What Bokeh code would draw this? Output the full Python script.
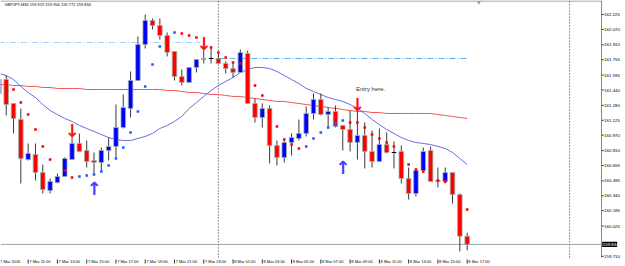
from bokeh.plotting import figure
from bokeh.models import Range1d, Label
from bokeh.embed import file_html
from bokeh.resources import INLINE
from bokeh.core.properties import value

# ---------------- data ----------------
symbol_header = "GBPJPY,M30 159.919 159.956 159.772 159.834"

# candle index 0 = 7 Mar 09:00, one candle per 30 minutes, last = 8 Mar 17:00
opens = [161.404, 161.549, 161.300, 161.133, 160.717, 160.769, 160.582, 160.395, 160.478, 160.541,
         160.717, 160.884, 160.811, 160.707, 160.686, 160.811, 160.853, 161.050, 161.248, 161.539,
         161.913, 162.163, 162.111, 162.007, 161.841, 161.581, 161.518, 161.674, 161.757, 161.768,
         161.768, 161.716, 161.664, 161.622, 161.820, 161.300, 161.154, 161.248, 160.863, 160.738,
         160.894, 160.936, 160.988, 161.196, 161.341, 161.185, 161.217, 161.071, 161.029, 160.894,
         160.967, 160.801, 160.697, 160.873, 160.790, 160.801, 160.520, 160.364, 160.603, 160.811,
         160.499, 160.489, 160.582, 160.353, 159.919]
highs = [161.591, 161.591, 161.300, 161.248, 160.884, 160.884, 160.665, 160.520, 160.572, 160.738,
         160.967, 160.988, 160.915, 160.790, 160.842, 160.946, 161.289, 161.393, 161.633, 161.997,
         162.225, 162.184, 162.184, 162.038, 161.841, 161.653, 161.674, 161.757, 161.861, 161.893,
         161.830, 161.737, 161.716, 161.861, 161.851, 161.352, 161.300, 161.279, 160.915, 160.915,
         160.988, 161.133, 161.269, 161.404, 161.404, 161.258, 161.279, 161.071, 161.227, 161.227,
         161.102, 161.019, 161.040, 160.998, 160.905, 160.863, 160.634, 160.624, 160.842, 160.853,
         160.634, 160.634, 160.582, 160.364, 159.956]
lows = [161.373, 161.175, 160.988, 160.468, 160.707, 160.499, 160.364, 160.364, 160.468, 160.541,
        160.717, 160.801, 160.634, 160.561, 160.593, 160.707, 160.738, 161.040, 161.154, 161.539,
        161.872, 162.069, 161.965, 161.789, 161.539, 161.487, 161.518, 161.622, 161.716, 161.716,
        161.716, 161.612, 161.570, 161.622, 161.300, 161.102, 161.050, 160.676, 160.655, 160.686,
        160.759, 160.915, 160.957, 161.133, 161.175, 161.040, 161.050, 160.811, 160.801, 160.717,
        160.624, 160.634, 160.697, 160.780, 160.624, 160.468, 160.301, 160.333, 160.582, 160.489,
        160.426, 160.468, 160.260, 159.760, 159.772]
closes = [161.549, 161.289, 161.144, 160.728, 160.780, 160.582, 160.405, 160.489, 160.541, 160.728,
          160.884, 160.801, 160.697, 160.686, 160.811, 160.853, 161.050, 161.258, 161.539, 161.913,
          162.163, 162.111, 162.007, 161.830, 161.581, 161.518, 161.674, 161.757, 161.768, 161.768,
          161.716, 161.664, 161.622, 161.830, 161.300, 161.154, 161.248, 160.863, 160.738, 160.894,
          160.946, 160.988, 161.196, 161.341, 161.185, 161.217, 161.061, 161.029, 160.894, 160.967,
          160.801, 160.697, 160.873, 160.790, 160.790, 160.520, 160.364, 160.603, 160.801, 160.489,
          160.489, 160.582, 160.353, 159.919, 159.834]

ma_slow = [161.497, 161.497, 161.487, 161.487, 161.477, 161.477, 161.466, 161.466, 161.456, 161.456,
           161.456, 161.456, 161.445, 161.445, 161.445, 161.445, 161.445, 161.445, 161.445, 161.445,
           161.445, 161.445, 161.445, 161.435, 161.435, 161.425, 161.414, 161.414, 161.404, 161.393,
           161.393, 161.383, 161.373, 161.373, 161.362, 161.352, 161.341, 161.331, 161.321, 161.321,
           161.310, 161.300, 161.289, 161.279, 161.269, 161.258, 161.248, 161.237, 161.227, 161.217,
           161.217, 161.206, 161.206, 161.196, 161.196, 161.196, 161.196, 161.196, 161.196, 161.196,
           161.185, 161.175, 161.165, 161.154, 161.144]
ma_fast = [161.612, 161.591, 161.549, 161.477, 161.414, 161.362, 161.289, 161.227, 161.185, 161.144,
           161.113, 161.071, 161.040, 161.009, 160.977, 160.946, 160.925, 160.915, 160.915, 160.936,
           160.957, 160.988, 161.040, 161.071, 161.113, 161.165, 161.248, 161.310, 161.373, 161.435,
           161.487, 161.529, 161.570, 161.622, 161.653, 161.674, 161.674, 161.664, 161.633, 161.591,
           161.549, 161.508, 161.456, 161.425, 161.393, 161.362, 161.341, 161.321, 161.289, 161.248,
           161.196, 161.133, 161.081, 161.029, 160.988, 160.946, 160.915, 160.894, 160.884, 160.873,
           160.853, 160.832, 160.790, 160.728, 160.665]

sar_red_k = [2, 3, 4, 5, 6, 7, 9, 10, 25, 26, 27, 29, 30, 31, 32, 33, 35, 36, 38, 39, 40, 41,
             48, 49, 50, 51, 52, 53, 54, 56, 57, 58, 60, 61, 62, 64]
sar_red = [161.445, 161.310, 161.185, 161.029, 160.853, 160.717, 160.603, 160.530, 162.028, 162.007,
           161.986, 161.882, 161.830, 161.778, 161.726, 161.716, 161.487, 161.383, 161.061, 160.925,
           160.873, 160.832, 161.102, 161.102, 161.050, 160.977, 160.936, 160.894, 160.853, 160.665,
           160.613, 160.593, 160.499, 160.489, 160.426, 160.197]
sar_blue_k = [11, 12, 13, 14, 15, 16, 17, 18, 19, 20, 21, 22, 24, 42, 43, 44, 45, 46, 47]
sar_blue = [160.541, 160.551, 160.561, 160.593, 160.655, 160.728, 160.842, 160.998, 161.217, 161.477,
            161.705, 161.893, 162.038, 160.853, 160.936, 160.998, 161.050, 161.092, 161.123]

arrow_down_k = [10, 28, 49]
arrow_down_price = [161.019, 161.924, 161.289]
arrow_up_k = [13, 47]
arrow_up_price = [160.416, 160.634]

level_price = [161.934, 161.768]
level_start_k = [0, 30]
level_end_k = [27.5, 64]

note_text = "Entry here."
note_k = 48.8
note_price = 161.449

separator_k = [30, 78]
shift_k = 65.6
bid_price = 159.834
bid_text = "159.834"

time_tick_k = [0, 4, 8, 12, 16, 20, 24, 28, 32, 36, 40, 44, 48, 52, 56, 60, 64]
time_labels = ["7 Mar 2016", "7 Mar 11:00", "7 Mar 13:00", "7 Mar 15:00", "7 Mar 17:00",
               "7 Mar 19:00", "7 Mar 21:00", "7 Mar 23:00", "8 Mar 01:00", "8 Mar 03:00",
               "8 Mar 05:00", "8 Mar 07:00", "8 Mar 09:00", "8 Mar 11:00", "8 Mar 13:00",
               "8 Mar 15:00", "8 Mar 17:00"]
price_ticks = [162.225, 162.070, 161.910, 161.755, 161.595, 161.440, 161.280, 161.125, 160.970,
               160.810, 160.655, 160.495, 160.340, 160.185, 160.025, 159.710]
price_labels = ["162.225", "162.070", "161.910", "161.755", "161.595", "161.440", "161.280",
                "161.125", "160.970", "160.810", "160.655", "160.495", "160.340", "160.185",
                "160.025", "159.710"]

# ---------------- geometry of the MT4 window ----------------
PXK = 7.3168          # pixels per candle
PXP = 0.010401        # price per pixel
X0 = 0.22             # candle index at the left edge
Y1 = 162.371          # price at the top edge
XR = 82.36            # candle index at the right border of the chart area
YB = 159.698          # price at the bottom of the chart area
XC = X0 + 625 / PXK
YC = Y1 - 266 * PXP
FONT = "Liberation Sans"

p = figure(width=625, height=266, output_backend="svg", toolbar_location=None,
           x_range=Range1d(X0, XC), y_range=Range1d(YC, Y1),
           min_border_left=0, min_border_top=0, min_border_right=0, min_border_bottom=0,
           background_fill_color="white", border_fill_color="white")
p.axis.visible = False
p.grid.visible = False
p.outline_line_color = None

# chart border (top + right)
p.segment(x0=[X0, XR], y0=[Y1 - 0.5 * PXP, YB], x1=[XR, XR], y1=[Y1 - 0.5 * PXP, Y1],
          line_color="#8c8c8c", line_width=1)

# price scale (right): ticks and labels
p.segment(x0=[XR] * len(price_ticks), y0=price_ticks, x1=[XR + 2.2 / PXK] * len(price_ticks),
          y1=price_ticks, line_color="#333333", line_width=1)
p.text(x=[XR + 2.6 / PXK] * len(price_ticks), y=price_ticks, text=price_labels,
       text_font=value(FONT), text_font_size="4.4px", text_align="left",
       text_baseline="middle", text_color="black")

# time scale (bottom): ticks and left-aligned labels
p.segment(x0=time_tick_k, y0=[YB - 2 * PXP] * len(time_tick_k), x1=time_tick_k,
          y1=[YB - 6 * PXP] * len(time_tick_k), line_color="#333333", line_width=1)
p.text(x=[k + 1.2 / PXK for k in time_tick_k], y=[YB - 4.3 * PXP] * len(time_tick_k),
       text=time_labels, text_font=value(FONT), text_font_size="4px", text_align="left",
       text_baseline="middle", text_color="black")

# period separators
p.segment(x0=separator_k, y0=[YB] * len(separator_k), x1=separator_k, y1=[Y1] * len(separator_k),
          line_color="#333333", line_width=1, line_dash="1 2")

# level lines
level_colors = ["#a8d2f4", "#5aaeee"]
p.segment(x0=level_start_k, y0=level_price, x1=level_end_k, y1=level_price,
          line_color=level_colors, line_width=1, line_dash="6 2 1 2")

# bid line
p.segment(x0=[X0], y0=[bid_price], x1=[XR], y1=[bid_price], line_color="#9aa4b2", line_width=1)

# moving averages
idx = list(range(len(opens)))
p.line(idx, ma_slow, line_color="#f25555", line_width=1)
p.line(idx, ma_fast, line_color="#6b6be6", line_width=1)

# candles
top = [max(o, c) for o, c in zip(opens, closes)]
bot = [min(o, c) for o, c in zip(opens, closes)]
col = ["#0000ff" if c > o else "#ff0000" for o, c in zip(opens, closes)]
p.segment(x0=idx, y0=lows, x1=idx, y1=highs, line_color="#3a3a3a", line_width=1)
body = [i for i in idx if opens[i] != closes[i]]
p.vbar(x=body, width=0.62, top=[top[i] for i in body], bottom=[bot[i] for i in body],
       fill_color=[col[i] for i in body], line_color="#9fb0a4", line_width=0.8)
doji = [i for i in idx if opens[i] == closes[i]]
p.segment(x0=[i - 0.31 for i in doji], y0=[opens[i] for i in doji],
          x1=[i + 0.31 for i in doji], y1=[opens[i] for i in doji],
          line_color="black", line_width=1)

# parabolic SAR dots
p.scatter(sar_red_k, sar_red, marker="square", size=2.6, fill_color="#ff0000", line_color=None)
p.scatter(sar_blue_k, sar_blue, marker="square", size=2.6, fill_color="#1f5fff", line_color=None)

# signal arrows
p.text(x=arrow_down_k, y=arrow_down_price, text=["\u2193"] * len(arrow_down_k),
       text_font=value("DejaVu Sans"), text_font_size="18px", text_font_style="bold",
       text_align="center", text_baseline="alphabetic", text_color="#ff1010")
p.text(x=arrow_up_k, y=arrow_up_price, text=["\u2191"] * len(arrow_up_k),
       text_font=value("DejaVu Sans"), text_font_size="18px", text_font_style="bold",
       text_align="center", text_baseline="alphabetic", text_color="#4a3cff")

# chart shift marker
p.scatter([shift_k], [Y1 - 2 * PXP], marker="inverted_triangle", size=4, fill_color="#9a9a9a",
          line_color=None)

# bid price box on the scale
p.quad(left=[XR + 0.7 / PXK], right=[XR + 15.7 / PXK], top=[bid_price + 2.6 * PXP],
       bottom=[bid_price - 2.6 * PXP], fill_color="black", line_color=None)
p.text(x=[XR + 1.3 / PXK], y=[bid_price], text=[bid_text], text_font=value(FONT),
       text_font_size="4.4px", text_align="left", text_baseline="middle", text_color="white")

# annotations
p.add_layout(Label(x=note_k, y=note_price, text=note_text, text_font=FONT,
                   text_font_size="6px", text_color="#333333", text_baseline="middle",
                   text_align="left"))
p.add_layout(Label(x=X0 + 4 / PXK, y=Y1 - 4.4 * PXP, text=symbol_header, text_font=FONT,
                   text_font_size="4px", text_color="black", text_baseline="middle",
                   text_align="left"))

open("out.html", "w").write(file_html(p, INLINE))
